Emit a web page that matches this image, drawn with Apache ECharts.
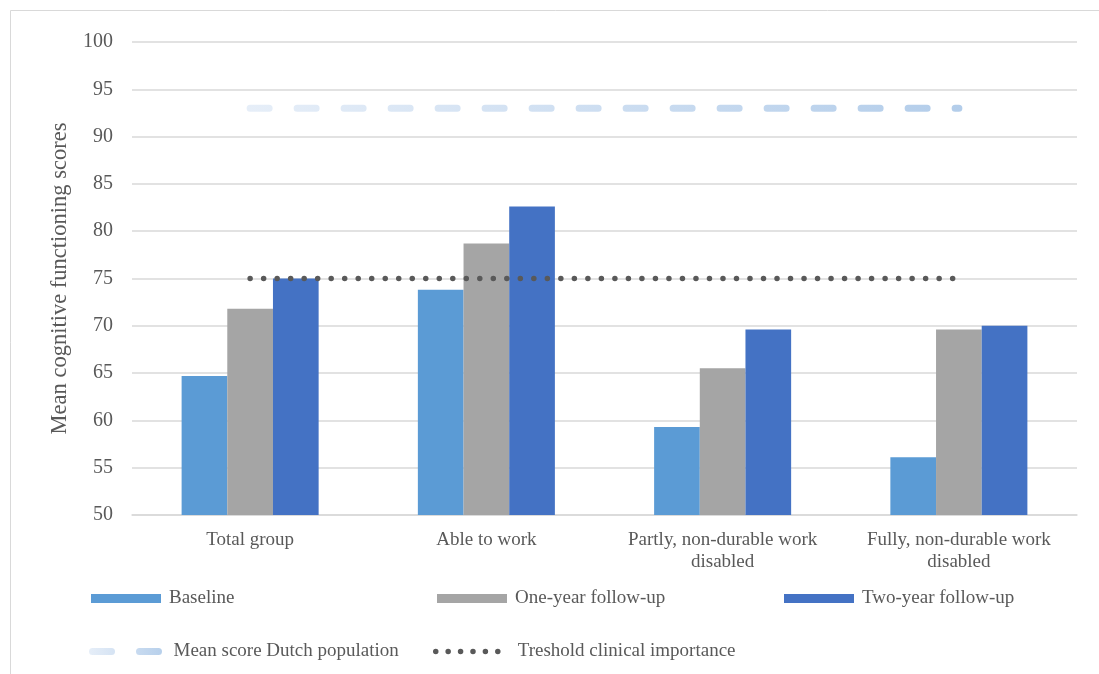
<!DOCTYPE html>
<html>
<head>
<meta charset="utf-8">
<script src="https://cdn.jsdelivr.net/npm/echarts@6/dist/echarts.min.js"></script>
<style>
  html, body { margin: 0; padding: 0; background: #fff; }
  #chart { width: 1099px; height: 674px; }
</style>
</head>
<body>
<div id="chart"></div>
<script>
// Groups by work status
const categories = ['Total group', 'Able to work', 'Partly, non-durable work\ndisabled', 'Fully, non-durable work\ndisabled'];

// Mean cognitive functioning scores per measurement moment
const baseline = [64.7, 73.8, 59.3, 56.1];
const oneYear = [71.8, 78.7, 65.5, 69.6];
const twoYear = [75.0, 82.6, 69.6, 70.0];

// Reference lines
const dutchMean = [93, 93, 93, 93];
const clinicalThreshold = [75, 75, 75, 75];

const yTicks = { min: 50, max: 100, interval: 5 };

const font = '"Liberation Serif", "Times New Roman", serif';
const textColor = '#595959';

const chart = echarts.init(document.getElementById('chart'), null, { renderer: 'canvas' });

const dashGradient = new echarts.graphic.LinearGradient(0, 0, 1, 0, [
  { offset: 0, color: '#e6eef8' },
  { offset: 1, color: '#b3cdea' }
]);

const legendBase = {
  itemWidth: 70,
  itemHeight: 9,
  itemGap: 0,
  textStyle: { fontFamily: font, fontSize: 19, color: textColor, padding: [0, 0, 0, 3] }
};

function withPad(px) {
  return Object.assign({}, legendBase.textStyle, { padding: [0, 0, 0, px] });
}

chart.setOption({
  animation: false,
  backgroundColor: '#ffffff',
  textStyle: { fontFamily: font },
  graphic: [{
    type: 'rect',
    shape: { x: 10.5, y: 10.5, width: 1100, height: 700 },
    style: { fill: 'none', stroke: '#d9d9d9', lineWidth: 1 },
    silent: true
  }],
  grid: { left: 132, right: 22, top: 42, bottom: 159 },
  legend: [
    Object.assign({}, legendBase, { left: 86, top: 584, data: [{ name: 'Baseline', icon: 'rect' }] }),
    Object.assign({}, legendBase, { left: 432, top: 584, data: [{ name: 'One-year follow-up', icon: 'rect' }] }),
    Object.assign({}, legendBase, { left: 779, top: 584, data: [{ name: 'Two-year follow-up', icon: 'rect' }] }),
    Object.assign({}, legendBase, {
      left: 84, top: 637, itemWidth: 73, itemHeight: 14,
      lineStyle: { width: 7, type: [19, 28], cap: 'round' },
      textStyle: withPad(3),
      data: [{ name: 'Mean score Dutch population', itemStyle: { opacity: 0 } }]
    }),
    Object.assign({}, legendBase, {
      left: 428, top: 637, itemWidth: 64, itemHeight: 14,
      lineStyle: { width: 5.5, type: [0.01, 12.4], cap: 'round' },
      textStyle: withPad(13),
      data: [{ name: 'Treshold clinical importance', itemStyle: { opacity: 0 } }]
    })
  ],
  xAxis: {
    type: 'category',
    data: categories,
    boundaryGap: true,
    axisLine: { lineStyle: { color: '#d9d9d9', width: 1.5 } },
    axisTick: { show: false },
    axisLabel: { fontFamily: font, fontSize: 19, color: textColor, margin: 14, lineHeight: 22, interval: 0 }
  },
  yAxis: {
    type: 'value',
    min: yTicks.min,
    max: yTicks.max,
    interval: yTicks.interval,
    name: 'Mean cognitive functioning scores',
    nameLocation: 'middle',
    nameGap: 60,
    nameRotate: 90,
    nameTextStyle: { fontFamily: font, fontSize: 22.5, color: textColor },
    axisLine: { show: false },
    axisTick: { show: false },
    axisLabel: { fontFamily: font, fontSize: 20, color: textColor, margin: 19 },
    splitLine: { lineStyle: { color: '#d9d9d9', width: 1.5 } }
  },
  series: [
    {
      name: 'Baseline', type: 'bar', data: baseline,
      barGap: '0%', barCategoryGap: '42%',
      itemStyle: { color: '#5b9bd5' }
    },
    {
      name: 'One-year follow-up', type: 'bar', data: oneYear,
      barGap: '0%', barCategoryGap: '42%',
      itemStyle: { color: '#a5a5a5' }
    },
    {
      name: 'Two-year follow-up', type: 'bar', data: twoYear,
      barGap: '0%', barCategoryGap: '42%',
      itemStyle: { color: '#4472c4' }
    },
    {
      name: 'Mean score Dutch population', type: 'line', data: dutchMean,
      symbol: 'none', z: 5,
      itemStyle: { color: '#c5d9f0' },
      lineStyle: { color: dashGradient, width: 7, type: [19, 28], cap: 'round' }
    },
    {
      name: 'Treshold clinical importance', type: 'line', data: clinicalThreshold,
      symbol: 'none', z: 5,
      itemStyle: { color: '#595959' },
      lineStyle: { color: '#595959', width: 5.5, type: [0.01, 13.5], cap: 'round' }
    }
  ]
});
</script>
</body>
</html>
